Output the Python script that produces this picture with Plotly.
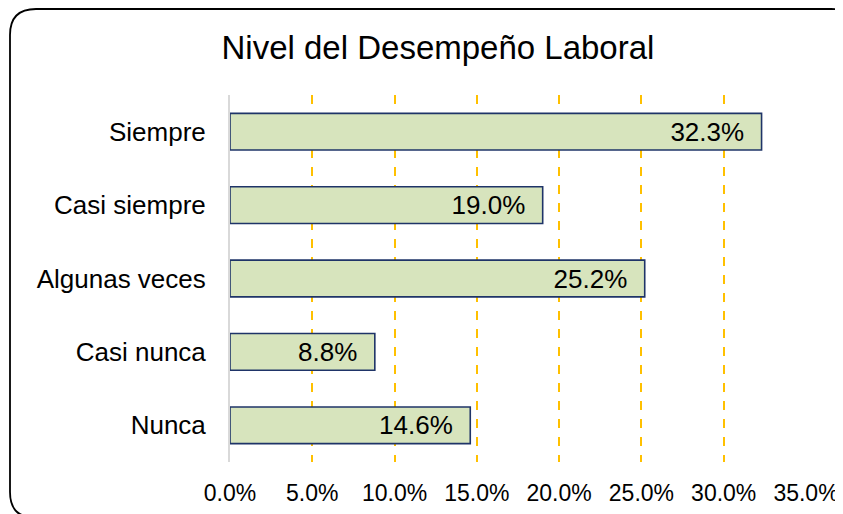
import plotly.graph_objects as go

categories = ["Siempre", "Casi siempre", "Algunas veces", "Casi nunca", "Nunca"]
values = [32.3, 19.0, 25.2, 8.8, 14.6]
tick_vals = [0, 5, 10, 15, 20, 25, 30, 35]
tick_text = ["0.0%", "5.0%", "10.0%", "15.0%", "20.0%", "25.0%", "30.0%", "35.0%"]

font = "Liberation Sans, Arial, sans-serif"

fig = go.Figure()
fig.add_trace(go.Bar(
    x=values,
    y=categories,
    orientation="h",
    width=0.5,
    marker=dict(color="#D7E4BD", line=dict(color="#1F3468", width=1.6)),
    # non-breaking spaces keep the label off the bar end
    text=[f"{v:.1f}%\u00a0\u00a0" for v in values],
    textposition="inside",
    insidetextanchor="end",
    textfont=dict(family=font, size=26, color="#000000"),
    cliponaxis=False,
))

# rounded chart border (pixels relative to plot area's bottom-left)
w, h, r = 847, 509, 26
x0, y0 = -220, -56
fig.add_shape(
    type="path",
    xref="paper", yref="paper",
    xsizemode="pixel", ysizemode="pixel",
    xanchor=0, yanchor=0,
    path=(f"M {x0 + r},{y0 + h} L {x0 + w - r},{y0 + h} Q {x0 + w},{y0 + h} {x0 + w},{y0 + h - r} "
          f"L {x0 + w},{y0 + r} Q {x0 + w},{y0} {x0 + w - r},{y0} "
          f"L {x0 + r},{y0} Q {x0},{y0} {x0},{y0 + r} "
          f"L {x0},{y0 + h - r} Q {x0},{y0 + h} {x0 + r},{y0 + h} Z"),
    line=dict(color="#000000", width=1.8),
    layer="above",
)

fig.update_layout(
    width=843, height=514,
    margin=dict(l=222, r=45, t=87, b=60),
    paper_bgcolor="white",
    plot_bgcolor="white",
    showlegend=False,
    title=dict(
        text="Nivel del Desempeño Laboral",
        x=0.51, xanchor="center", xref="container",
        y=0.924, yanchor="middle", yref="container",
        font=dict(family=font, size=33, color="#000000"),
    ),
    xaxis=dict(
        range=[0, 35],
        tickvals=tick_vals,
        ticktext=tick_text,
        showgrid=True,
        gridcolor="#FFC000",
        griddash="dash",
        gridwidth=1.5,
        zeroline=False,
        showline=False,
        ticks="",
        ticklabelstandoff=15,
        tickfont=dict(family=font, size=23, color="#000000"),
    ),
    yaxis=dict(
        categoryorder="array",
        categoryarray=categories,
        autorange="reversed",
        showgrid=False,
        zeroline=False,
        showline=True,
        linecolor="#D9D9D9",
        linewidth=2,
        ticks="",
        ticklabelstandoff=17,
        tickfont=dict(family=font, size=26, color="#000000"),
    ),
)

fig.write_html("out.html")
